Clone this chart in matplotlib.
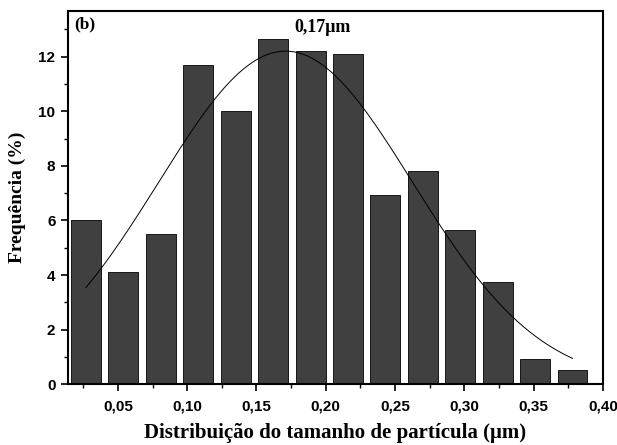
import matplotlib
matplotlib.use("Agg")
import matplotlib.pyplot as plt
import numpy as np
from matplotlib.ticker import MultipleLocator

# Dados
centros = [0.027, 0.054, 0.081, 0.108, 0.135, 0.162, 0.189,
           0.216, 0.243, 0.270, 0.297, 0.324, 0.351, 0.378]
frequencia = [6.0, 4.1, 5.5, 11.7, 10.0, 12.65, 12.2,
              12.1, 6.95, 7.82, 5.65, 3.76, 0.94, 0.53]

# Ajuste gaussiano (parâmetros estimados do gráfico)
xc = 0.171
sigma = 0.0916
amplitude = 12.2

xticks = [0.05, 0.10, 0.15, 0.20, 0.25, 0.30, 0.35, 0.40]
xtick_labels = ['0,05', '0,10', '0,15', '0,20', '0,25', '0,30', '0,35', '0,40']
yticks = [0, 2, 4, 6, 8, 10, 12]

fig = plt.figure(figsize=(6.17, 4.45), dpi=100)
ax = fig.add_axes([0.1102, 0.1364, 0.8671, 0.8389])

ax.bar(centros, frequencia, width=0.0216, color='#404040',
       edgecolor='black', linewidth=0.6, zorder=2)

xs = np.linspace(centros[0], centros[-1], 300)
ys = amplitude * np.exp(-(xs - xc)**2 / (2 * sigma**2))
ax.plot(xs, ys, color='black', linewidth=0.7, zorder=3)

ax.set_xlim(0.014, 0.40)
ax.set_ylim(0, 13.67)
ax.set_xticks(xticks)
ax.set_xticklabels(xtick_labels)
ax.set_yticks(yticks)
ax.xaxis.set_minor_locator(MultipleLocator(0.025))
ax.yaxis.set_minor_locator(MultipleLocator(1))

for lab in ax.get_xticklabels() + ax.get_yticklabels():
    lab.set_fontfamily('Liberation Sans')
    lab.set_fontweight('bold')
    lab.set_fontsize(11)

ax.tick_params(which='major', direction='out', length=5, width=1.2)
ax.tick_params(axis='x', which='major', pad=6)
ax.tick_params(axis='y', which='major', pad=4)
ax.tick_params(which='minor', direction='out', length=3, width=1.0)
for s in ax.spines.values():
    s.set_linewidth(1.5)

serif = {'family': 'Liberation Serif', 'weight': 'bold'}
ax.set_xlabel('Distribuição do tamanho de partícula (μm)', fontdict=serif,
              fontsize=15, labelpad=7)
ax.set_ylabel('Frequência (%)', fontdict=serif, fontsize=14, labelpad=9)

ax.text(0.012, 0.985, '(b)', transform=ax.transAxes, fontdict=serif,
        fontsize=12.5, ha='left', va='top')
ax.text(0.198, 13.05, '0,17μm', fontdict=serif, fontsize=13,
        ha='center', va='center')

fig.savefig('out.png', dpi=100)
